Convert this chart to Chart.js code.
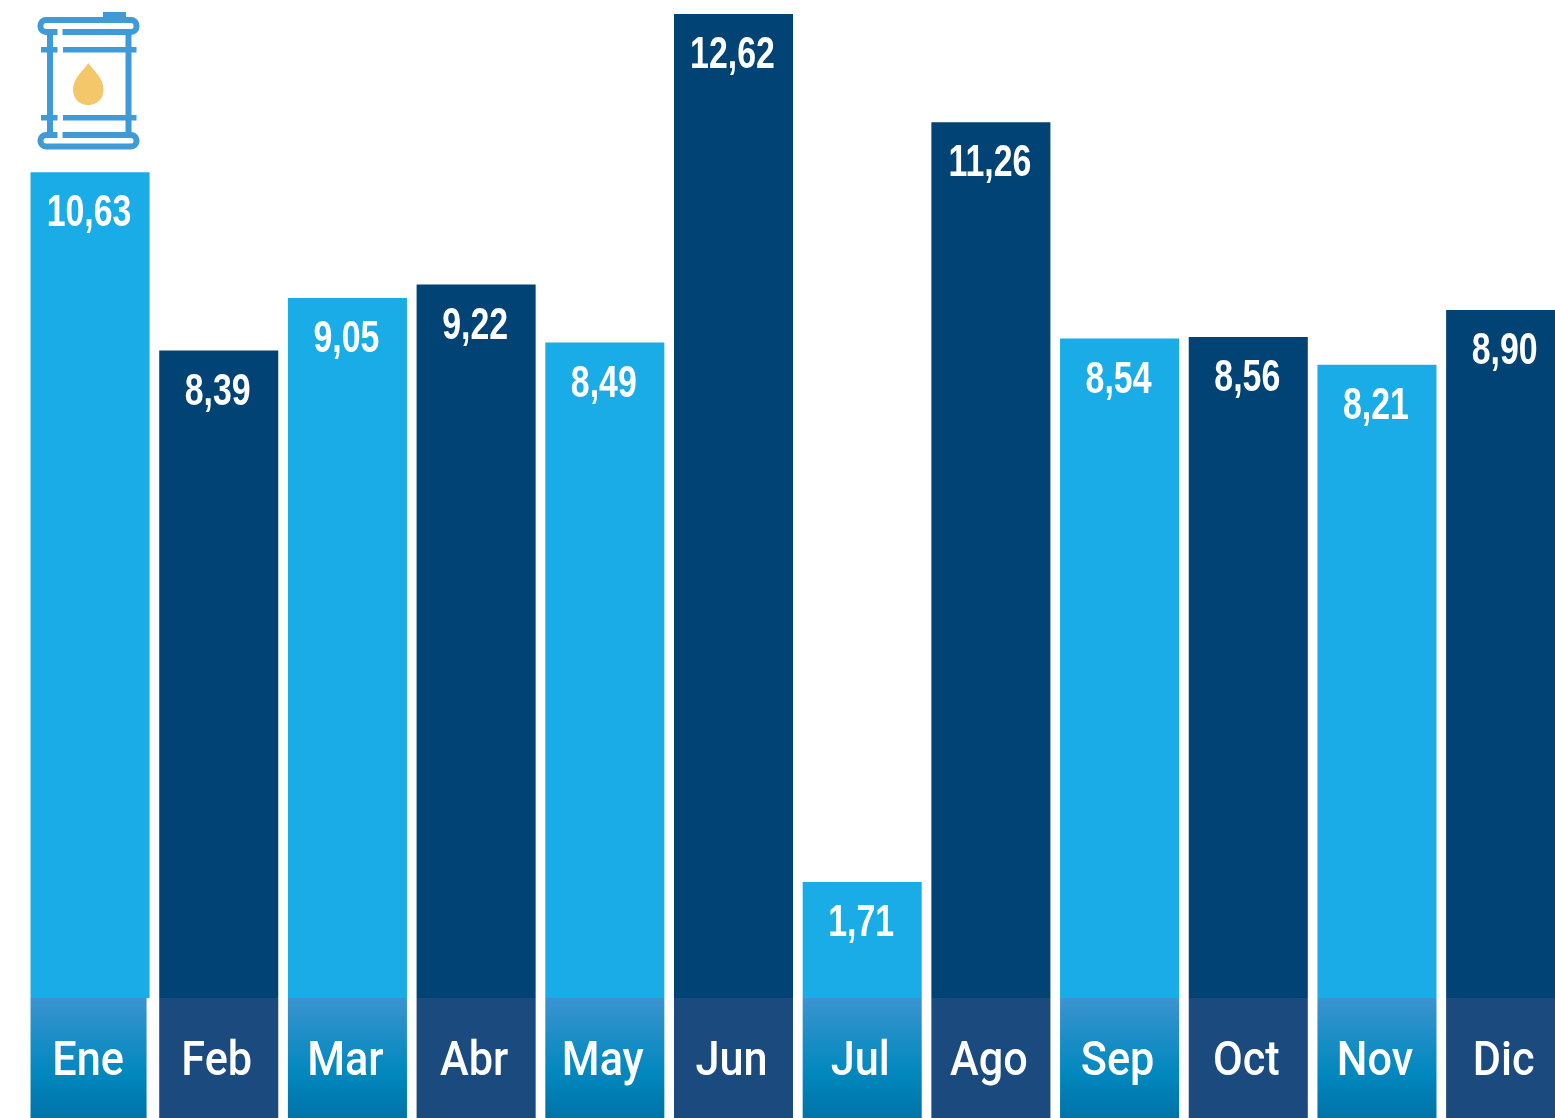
<!DOCTYPE html>
<html><head><meta charset="utf-8">
<style>html,body{margin:0;padding:0;background:#fff;width:1555px;height:1118px;overflow:hidden}
#w{position:relative;width:1555px;height:1118px;overflow:hidden}
canvas{position:absolute;left:0;top:0}
svg{position:absolute;left:0;top:0}</style>
<script src="https://cdn.jsdelivr.net/npm/chart.js@4/dist/chart.umd.min.js"></script>
</head><body><div id="w">
<canvas id="c" width="1570" height="1118" style="width:1570px;height:1118px"></canvas>
<svg width="160" height="160" viewBox="0 0 160 160">
<g fill="none" stroke="#3F9BD7" stroke-width="6">
<rect x="40.5" y="20" width="96" height="12" rx="5.5"/>
<rect x="40.5" y="135" width="96" height="11.5" rx="5.5"/>
</g>
<g fill="#3F9BD7">
<rect x="103" y="12" width="23" height="7"/>
<rect x="47" y="32" width="6" height="103"/>
<rect x="125.500" y="32" width="6" height="103"/>
<rect x="41" y="47" width="16.500" height="5.500"/>
<rect x="63" y="47" width="73.500" height="5.500"/>
<rect x="41" y="115" width="16.500" height="5.500"/>
<rect x="63" y="115" width="73.500" height="5.500"/>
</g>
<g fill="#fff">
<rect x="57.500" y="28" width="5" height="8"/>
<rect x="57.500" y="131" width="5" height="8"/>
</g>
<path d="M88.300 63C94 71 103.500 78 103.500 90C103.500 99 96.500 105 88.300 105C80 105 73 99 73 90C73 78 83 71 88.300 63Z" fill="#F5C76B"/>
</svg>
</div>
<script>
const categories = ["Ene","Feb","Mar","Abr","May","Jun","Jul","Ago","Sep","Oct","Nov","Dic"];
const values = [10.63,8.39,9.05,9.22,8.49,12.62,1.71,11.26,8.54,8.56,8.21,8.90];
const valueLabels = ["10,63","8,39","9,05","9,22","8,49","12,62","1,71","11,26","8,54","8,56","8,21","8,90"];
const barColors = ["#1AACE6","#014375"];
const bandDark = "#1B4A7E";
const bandStops = [[0,"#3B94D0"],[0.62,"#0188BE"],[1,"#0073A8"]];

function squeezed(ctx,text,x,y,sx,font){
  ctx.save();
  ctx.fillStyle="#fff";ctx.font=font;ctx.textAlign="center";ctx.textBaseline="middle";
  ctx.translate(x,y);ctx.scale(sx,1);
  ctx.fillText(text,0,0);
  ctx.restore();
}
const bands = {
  id:"bands",
  afterDatasetsDraw(chart){
    const ctx=chart.ctx, meta=chart.getDatasetMeta(0), top=998, bottom=chart.height, xs=chart.scales.x;
    meta.data.forEach((b,i)=>{
      const w=b.width-(i===0?3:0), x=b.x-b.width/2;
      if(i%2===0){
        const g=ctx.createLinearGradient(0,top,0,bottom);
        bandStops.forEach(s=>g.addColorStop(s[0],s[1]));
        ctx.fillStyle=g;
      } else ctx.fillStyle=bandDark;
      ctx.clearRect(x-1,top,b.width+2,bottom-top);
      ctx.fillRect(x,top,w,bottom-top);
      squeezed(ctx,valueLabels[i],b.x-1,b.y+42,0.77,"bold 44px 'Liberation Sans'");
      squeezed(ctx,xs.getLabelForValue(i),xs.getPixelForValue(i)-2,1063,0.9,"500 48px Roboto");
    });
  }
};
new Chart(document.getElementById("c"),{
  type:"bar",
  data:{labels:categories,datasets:[{data:values,
    backgroundColor:categories.map((_,i)=>barColors[i%2]),
    barPercentage:0.925,categoryPercentage:1}]},
  plugins:[bands],
  options:{
    responsive:false,animation:false,
    layout:{padding:{left:25.7,right:0,top:0,bottom:0}},
    plugins:{legend:{display:false},tooltip:{enabled:false},title:{display:false}},
    scales:{
      y:{display:false,min:0,max:12.796},
      x:{
        grid:{display:false},border:{display:false},
        ticks:{display:false},
        afterFit(s){s.height=100;}
      }
    }
  }
});
</script></body></html>
